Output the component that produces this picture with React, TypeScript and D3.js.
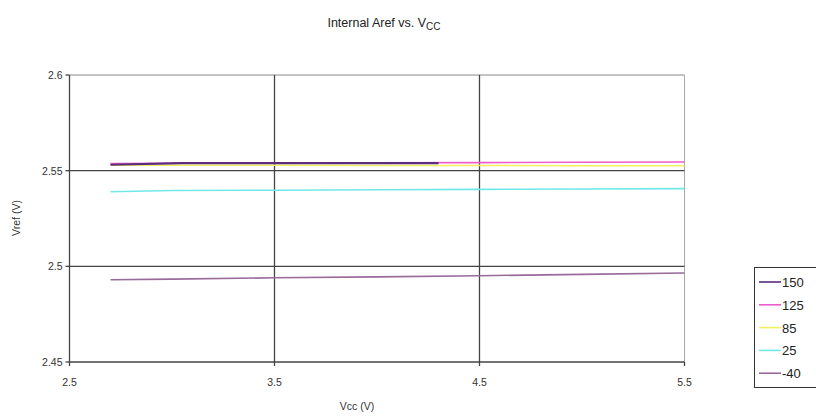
import React from "react";
import * as d3 from "d3";

const vccValues = [2.7, 3.0, 3.5, 4.0, 4.5, 5.0, 5.5];
const seriesNames = ["150", "125", "85", "25", "-40"];
const series150 = [2.5531, 2.5539, 2.5539, 2.5539, 2.5539];
const vcc150 = [2.7, 3.05, 3.5, 4.0, 4.3];
const series125 = [2.5537, 2.5539, 2.554, 2.5541, 2.5542, 2.5544, 2.5545];
const series85 = [2.5528, 2.5528, 2.5528, 2.5527, 2.5527, 2.5526, 2.5526];
const series25 = [2.539, 2.5396, 2.5398, 2.54, 2.5402, 2.5404, 2.5406];
const seriesM40 = [2.493, 2.4933, 2.494, 2.4945, 2.4951, 2.4958, 2.4965];
const xTicks = [2.5, 3.5, 4.5, 5.5];
const yTicks = [2.45, 2.5, 2.55, 2.6];

const colors = ["#5a2d7e", "#ee5ccc", "#f0f060", "#70e8e8", "#9a6a9a"];

export default function App() {
  const x = d3.scaleLinear().domain([2.5, 5.5]).range([69.5, 684.5]);
  const y = d3.scaleLinear().domain([2.45, 2.6]).range([362, 75]);
  const line = d3
    .line<[number, number]>()
    .x((d) => x(d[0]))
    .y((d) => y(d[1]));

  const data: [number, number][][] = [
    vcc150.map((v, i) => [v, series150[i]]),
    vccValues.map((v, i) => [v, series125[i]]),
    vccValues.map((v, i) => [v, series85[i]]),
    vccValues.map((v, i) => [v, series25[i]]),
    vccValues.map((v, i) => [v, seriesM40[i]]),
  ];
  const widths = [2.2, 1.6, 1.6, 1.6, 1.6];
  const drawOrder = [4, 3, 2, 1, 0];
  const font = "'Liberation Sans', Arial, sans-serif";
  const fmt = (v: number) => String(+v.toFixed(2));

  return (
    <svg
      width={816}
      height={420}
      style={{ position: "absolute", left: 0, top: 0, background: "#fff" }}
      fontFamily={font}
    >
      <text x={384} y={27} fontSize={12.5} textAnchor="middle" fill="#222">
        Internal Aref vs. V
        <tspan fontSize={10} dy={3}>CC</tspan>
      </text>

      {/* plot frame: top and right */}
      <line x1={x(2.5)} x2={x(5.5)} y1={y(2.6)} y2={y(2.6)} stroke="#888" strokeWidth={1} />
      <line x1={x(5.5)} x2={x(5.5)} y1={y(2.6)} y2={y(2.45)} stroke="#aaa" strokeWidth={1} />

      {/* gridlines */}
      {yTicks
        .filter((t) => t > 2.45 && t < 2.6)
        .map((t) => (
          <line key={"gy" + t} x1={x(2.5)} x2={x(5.5)} y1={y(t)} y2={y(t)} stroke="#444" strokeWidth={1.3} />
        ))}
      {xTicks
        .filter((t) => t > 2.5 && t < 5.5)
        .map((t) => (
          <line key={"gx" + t} x1={x(t)} x2={x(t)} y1={y(2.6)} y2={y(2.45)} stroke="#444" strokeWidth={1.3} />
        ))}

      {/* series */}
      {drawOrder.map((i) => (
        <path key={"s" + i} d={line(data[i]) || ""} fill="none" stroke={colors[i]} strokeWidth={widths[i]} />
      ))}

      {/* axes */}
      <line x1={x(2.5)} x2={x(2.5)} y1={y(2.6)} y2={y(2.45)} stroke="#444" strokeWidth={1.3} />
      <line x1={x(2.5)} x2={x(5.5)} y1={y(2.45)} y2={y(2.45)} stroke="#444" strokeWidth={1.3} />
      {yTicks.map((t) => (
        <g key={"yt" + t}>
          <line x1={x(2.5) - 4} x2={x(2.5)} y1={y(t)} y2={y(t)} stroke="#444" strokeWidth={1.3} />
          <text x={x(2.5) - 7} y={y(t) + 4} fontSize={10.5} textAnchor="end" fill="#333">
            {fmt(t)}
          </text>
        </g>
      ))}
      {xTicks.map((t) => (
        <g key={"xt" + t}>
          <line x1={x(t)} x2={x(t)} y1={y(2.45)} y2={y(2.45) + 4} stroke="#444" strokeWidth={1.3} />
          <text x={x(t)} y={y(2.45) + 24} fontSize={10.5} textAnchor="middle" fill="#333">
            {fmt(t)}
          </text>
        </g>
      ))}
      <text x={357} y={410} fontSize={10.5} textAnchor="middle" fill="#333">
        Vcc (V)
      </text>
      <text
        transform={`translate(20, ${218}) rotate(-90)`}
        fontSize={10.5}
        textAnchor="middle"
        fill="#333"
      >
        Vref (V)
      </text>

      {/* legend */}
      <rect x={754.5} y={267.5} width={70} height={120} fill="#fff" stroke="#333" strokeWidth={1} />
      {seriesNames.map((n, i) => (
        <g key={"lg" + n}>
          <line x1={759} x2={781} y1={282 + i * 22.8} y2={282 + i * 22.8} stroke={colors[i]} strokeWidth={1.6} />
          <text x={782} y={282 + i * 22.8 + 5} fontSize={13} fill="#222">
            {n}
          </text>
        </g>
      ))}
    </svg>
  );
}
